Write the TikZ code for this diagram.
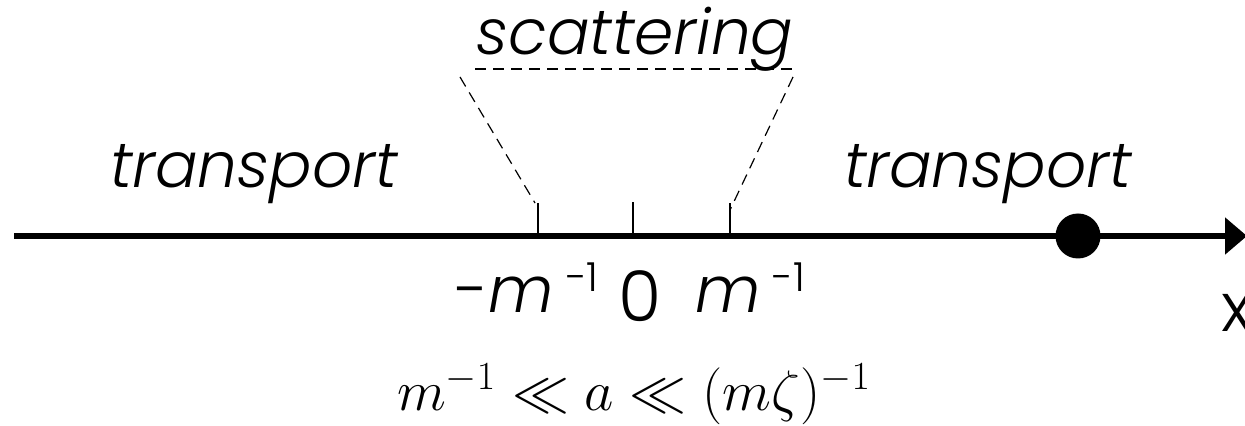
\RequirePackage{fix-cm}
\documentclass[tikz,border=0pt]{standalone}
\usepackage{fontspec}
\setsansfont{Poppins}[UprightFont=* Light, ItalicFont=* Light Italic]
\usetikzlibrary{arrows.meta}
\newcommand{\supone}{\raisebox{10.5pt}{\fontsize{20}{23}\selectfont -1}}
\tikzset{
  lbl/.style={font=\sffamily\itshape\fontsize{31.5}{36}\selectfont, inner sep=0pt, anchor=base},
  tickline/.style={line width=0.6pt},
  guide/.style={line width=0.6pt, dash pattern=on 5.5pt off 3.5pt},
  axis/.style={line width=2.6pt, -{Triangle[length=11pt,width=18pt]}},
  poslbl/.style={font=\sffamily\fontsize{32}{36}\selectfont, inner sep=0pt, anchor=base west}
}
\begin{document}
\begin{tikzpicture}[x=0.5pt,y=-0.5pt]
\useasboundingbox (0,0) rectangle (1245,426);
% axis
\coordinate (a0) at (14,236);
\coordinate (a1) at (1247,236);
\draw[axis] (a0) -- (a1);
\node[circle, fill=black, minimum size=22.5pt, inner sep=0pt] (dot) at (1078,236) {};
% ticks
\coordinate (tl) at (538,236); \coordinate (tlt) at (538,203);
\coordinate (tc) at (633,236); \coordinate (tct) at (633,202);
\coordinate (tr) at (730,236); \coordinate (trt) at (730,203);
\draw[tickline] (tl) -- (tlt);
\draw[tickline] (tc) -- (tct);
\draw[tickline] (tr) -- (trt);
% scattering
\node[lbl] (sc) at (635,55) {scattering};
\coordinate (ul) at (475,69); \coordinate (ur) at (796,69);
\draw[guide] (ul) -- (ur);
\coordinate (gl) at (460,77); \coordinate (gr) at (793,77);
\coordinate (gl2) at (535,203); \coordinate (gr2) at (730,210);
\draw[guide] (gl) -- (gl2);
\draw[guide] (gr) -- (gr2);
% transport
\node[lbl] (tL) at (254,188) {transport};
\node[lbl] (tR) at (988,188) {transport};
% positions
\node[poslbl] (pm) at (455,313) {-\textit{m}\hspace{6pt}\supone};
\node[poslbl] (p0) at (618,322) {\fontsize{35}{40}\selectfont 0};
\node[poslbl] (pp) at (695,313) {\textit{m}\hspace{6pt}\supone};
\node[poslbl] (xl) at (1221,332) {\fontsize{34}{38}\selectfont x};
% formula
\node[inner sep=0pt, anchor=base, font=\fontsize{28.5}{33}\selectfont] (f) at (634,410) {$m^{-1}\ll a\ll(m\zeta)^{-1}$};
\end{tikzpicture}
\end{document}
